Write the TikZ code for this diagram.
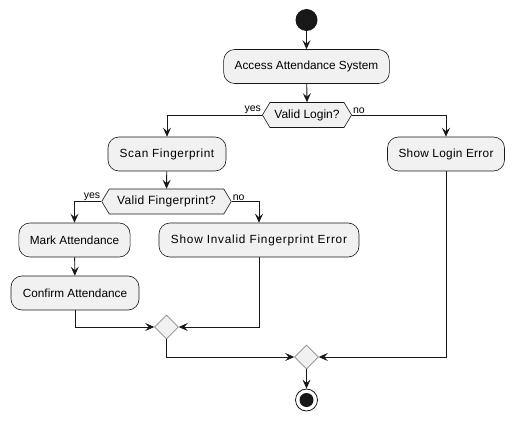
\documentclass[tikz,border=0pt]{standalone}
\usepackage{fontspec}
\setmainfont{Liberation Sans}
\usetikzlibrary{arrows.meta,shapes.geometric,shapes.symbols}
\definecolor{boxfill}{HTML}{F1F1F1}
\definecolor{ink}{HTML}{181818}
\definecolor{dgray}{HTML}{8A8A8A}
\newcommand{\spaced}[2]{{\addfontfeature{LetterSpace=#1}#2}}
\tikzset{
  actbox/.style={draw=ink, line width=0.6pt, fill=boxfill, rounded corners=11pt,
    minimum height=34pt, inner xsep=11pt, font=\fontsize{11.8}{13}\selectfont, text=black},
  hexbox/.style={draw=ink, line width=0.6pt, fill=boxfill, shape=signal,
    signal to=west and east, signal pointer angle=118, minimum height=25pt,
    inner xsep=4.5pt, inner ysep=2pt, font=\fontsize{12}{13}\selectfont},
  mergebox/.style={draw=dgray, line width=0.6pt, fill=boxfill, shape=diamond,
    minimum size=24pt, inner sep=0pt},
  flow/.style={draw=ink, line width=0.9pt, -{Stealth[length=9pt,width=8pt,inset=3.5pt]}},
  guard/.style={font=\fontsize{10.5}{12}\selectfont, inner sep=1pt},
}
\begin{document}
\begin{tikzpicture}[x=1pt,y=-1pt]
\useasboundingbox[fill=white] (0,0) rectangle (516,422);
\node[circle, fill=ink, minimum size=22pt, inner sep=0pt] (start) at (306.5,20) {};
\node[actbox, minimum width=165pt] (access) at (306.5,66.5) {Access Attendance System};
\node[hexbox] (vl) at (307,115) {Valid Login?};
\node[actbox, minimum width=118pt] (scan) at (167,154) {\spaced{4.8}{Scan Fingerprint}};
\node[actbox, minimum width=115pt] (slerr) at (446,154) {\spaced{2.5}{Show Login Error}};
\node[hexbox, inner xsep=8pt] (vf) at (166.5,201.5) {\spaced{2.8}{Valid Fingerprint?}};
\node[actbox, minimum width=109pt] (mark) at (74.5,240) {Mark Attendance};
\node[actbox, minimum width=200pt] (sinv) at (259,240) {\spaced{6.5}{Show Invalid Fingerprint Error}};
\node[actbox, minimum width=128pt] (confirm) at (75,293) {Confirm Attendance};
\node[mergebox] (m1) at (166.5,327) {};
\node[mergebox] (m2) at (306.5,357) {};
\node[circle, draw=ink, line width=0.8pt, fill=white, minimum size=22pt, inner sep=0pt] (stop) at (306.5,400) {};
\node[circle, fill=ink, minimum size=14pt, inner sep=0pt] (stopin) at (stop.center) {};

\draw[flow] (start) -- (access);
\draw[flow] (access) -- (vl.north);
\draw[flow] (vl.west) -| (scan.north);
\draw[flow] (vl.east) -| (slerr.north);
\node[guard, anchor=south east] (vly) at (vl.west) {yes};
\node[guard, anchor=south west] (vln) at (vl.east) {no};
\draw[flow] (scan) -- (vf.north);
\draw[flow] (vf.west) -| (mark.north);
\draw[flow] (vf.east) -| (sinv.north);
\node[guard, anchor=south east] (vfy) at (vf.west) {yes};
\node[guard, anchor=south west] (vfn) at (vf.east) {no};
\draw[flow] (mark) -- (confirm);
\draw[flow] (confirm.south) |- (m1.west);
\draw[flow] (sinv.south) |- (m1.east);
\draw[flow] (m1.south) |- (m2.west);
\draw[flow] (slerr.south) |- (m2.east);
\draw[flow] (m2.south) -- (stop.north);
\end{tikzpicture}
\end{document}
